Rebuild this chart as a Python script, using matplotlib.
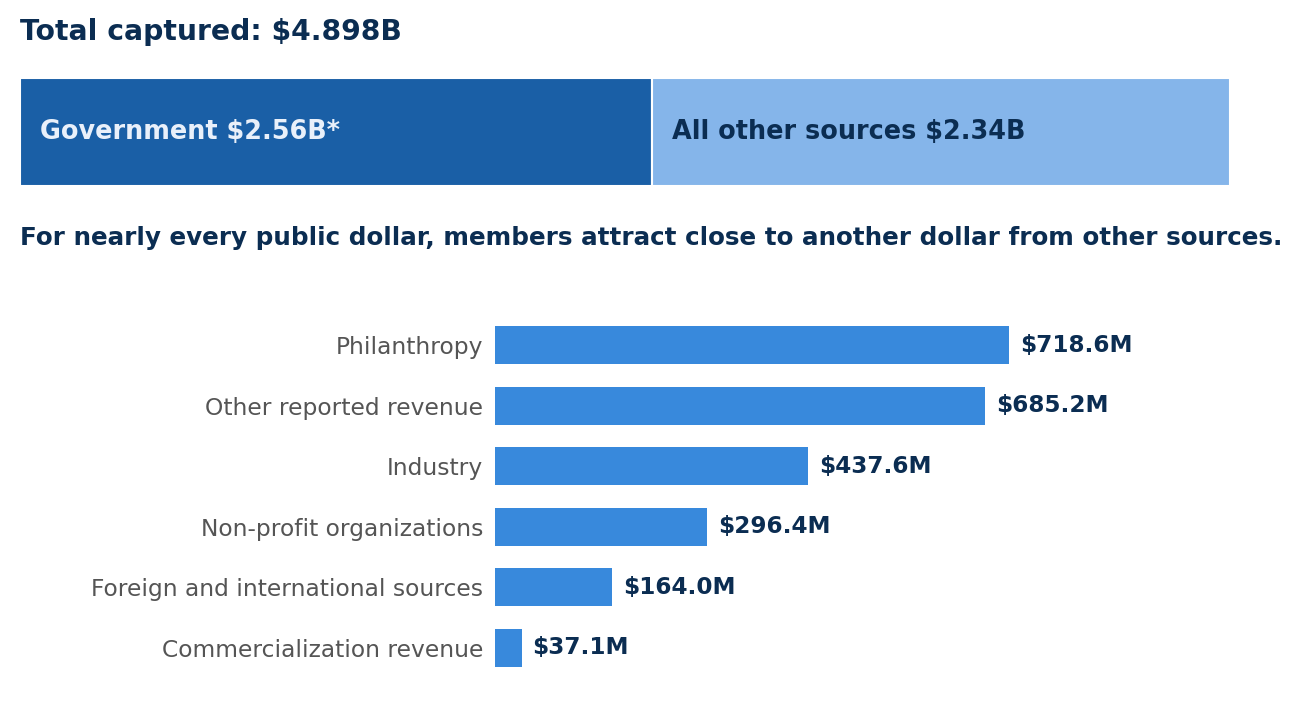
import matplotlib.pyplot as plt

# Data
total_label = 'Total captured: $4.898B'
split_names = ['Government', 'All other sources']
split_values = [2.56, 2.34]
split_text = ['Government $2.56B*', 'All other sources $2.34B']

categories = ['Philanthropy', 'Other reported revenue', 'Industry',
              'Non-profit organizations', 'Foreign and international sources',
              'Commercialization revenue']
values = [718.6, 685.2, 437.6, 296.4, 164.0, 37.1]

navy = '#0b2d52'
W, H = 1292, 704

fig = plt.figure(figsize=(W / 100, H / 100), dpi=100)


def px_axes(x0, y0, x1, y1):
    # axes placed in pixel coordinates measured from the top left
    return fig.add_axes([x0 / W, 1 - y1 / H, (x1 - x0) / W, (y1 - y0) / H])


fig.text(20 / W, 1 - 32 / H, total_label, fontsize=20.3, fontweight='bold',
         color=navy, va='center', ha='left')

# Stacked split bar
ax_top = px_axes(20, 78, 1230, 186)
left = 0
colors = ['#1a5fa6', '#85b5ea']
text_colors = ['#e9f0fa', navy]
for v, c, t, tc in zip(split_values, colors, split_text, text_colors):
    ax_top.barh(0, v, left=left, height=1, color=c, edgecolor='white', linewidth=1.5)
    ax_top.text(left + 0.08, 0, t, color=tc, fontsize=18.4, fontweight='bold',
                va='center', ha='left')
    left += v
ax_top.set_xlim(0, sum(split_values))
ax_top.set_ylim(-0.5, 0.5)
ax_top.axis('off')

fig.text(20 / W, 1 - 238 / H,
         'For nearly every public dollar, members attract close to another dollar from other sources.',
         fontsize=17.7, fontweight='bold', color=navy, va='center', ha='left')

# Category bars
ax = px_axes(495, 315, 1230, 678)
ypos = list(range(len(categories)))
ax.barh(ypos, values, height=0.63, color='#3889dc')
for y, v in zip(ypos, values):
    ax.text(v + 15, y, f'${v:.1f}M', color=navy, fontsize=16.7, fontweight='bold',
            va='center', ha='left')
ax.set_yticks(ypos)
ax.set_yticklabels(categories, fontsize=16.8, color='#555555')
ax.tick_params(axis='y', length=0, pad=8.5)
ax.set_xticks([])
ax.set_xlim(0, 735 / 0.7153)
ax.set_ylim(len(categories) - 0.5, -0.5)
for s in ax.spines.values():
    s.set_visible(False)

fig.savefig('out.png', dpi=100)
